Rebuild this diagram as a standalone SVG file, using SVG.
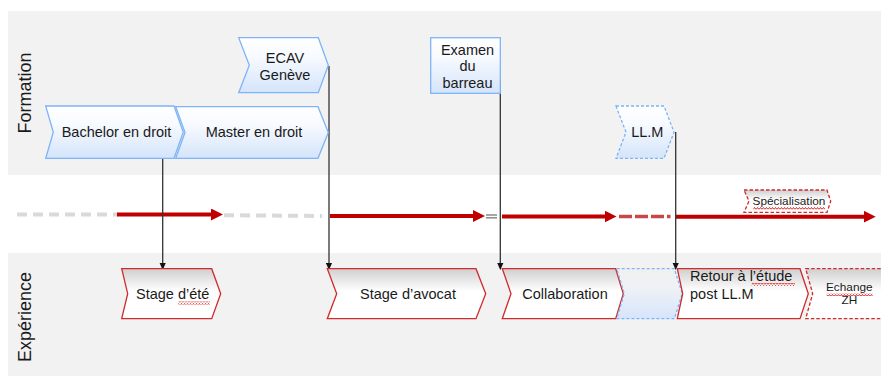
<svg xmlns="http://www.w3.org/2000/svg" width="881" height="376" viewBox="0 0 881 376">
<defs>
<linearGradient id="gBlue" x1="0" y1="0" x2="0" y2="1">
<stop offset="0" stop-color="#ffffff"/><stop offset="0.35" stop-color="#f7faff"/><stop offset="1" stop-color="#d4e4fa"/>
</linearGradient>
<linearGradient id="gBlueEmpty" x1="0" y1="0" x2="0" y2="1">
<stop offset="0" stop-color="#f0f0f0"/><stop offset="0.4" stop-color="#eef1f6"/><stop offset="1" stop-color="#d6e5fb"/>
</linearGradient>
<linearGradient id="gRed" x1="0" y1="0" x2="0" y2="1">
<stop offset="0" stop-color="#cfcfcf"/><stop offset="0.45" stop-color="#ffffff"/><stop offset="1" stop-color="#ffffff"/>
</linearGradient>
<pattern id="wave" width="3" height="3" patternUnits="userSpaceOnUse">
<path d="M0,2.5 L1.5,0.5 L3,2.5" fill="none" stroke="#e02020" stroke-width="1"/>
</pattern>
<marker id="ra" viewBox="0 0 12 12" markerWidth="12" markerHeight="12" refX="4" refY="6" orient="auto" markerUnits="userSpaceOnUse">
<path d="M0,0 L12,6 L0,12 z" fill="#c00000"/>
</marker>
<marker id="ka" viewBox="0 0 8 8" markerWidth="7" markerHeight="7" refX="3" refY="4" orient="auto" markerUnits="userSpaceOnUse">
<path d="M0,0.5 L8,4 L0,7.5 z" fill="#111"/>
</marker>
</defs>
<style>
text{font-family:"Liberation Sans",Arial,sans-serif;fill:#1a1a1a}
.t{font-size:14.5px}
.s{font-size:11.8px}
.lab{font-size:18px}
.blue{fill:url(#gBlue);stroke:#7eb4f6;stroke-width:1.3}
.bluedash{fill:url(#gBlue);stroke:#7eb4f6;stroke-width:1.3;stroke-dasharray:3 2}
.red{fill:url(#gRed);stroke:#d02a2a;stroke-width:1.3}
.reddash{fill:url(#gRed);stroke:#d02a2a;stroke-width:1.3;stroke-dasharray:3.5 2}
.conn{stroke:#333;stroke-width:1.3;fill:none}
.tl{stroke:#c00000;stroke-width:4;fill:none}
.tlg{stroke:#d9d9d9;stroke-width:4;fill:none;stroke-dasharray:10 6}
</style>

<g id="bands">
<rect x="8" y="11" width="873" height="164" fill="#f2f2f2"/>
<rect x="8" y="253" width="873" height="123" fill="#f2f2f2"/>
<text class="lab" transform="translate(31,93) rotate(-90)" text-anchor="middle">Formation</text>
<text class="lab" transform="translate(31,317) rotate(-90)" text-anchor="middle">Expérience</text>
</g>

<g id="timeline">
<line class="tlg" x1="17" y1="214.5" x2="118" y2="214.5"/>
<line class="tl" x1="117" y1="214.5" x2="215" y2="214.5" marker-end="url(#ra)"/>
<line class="tlg" x1="224" y1="215.2" x2="322" y2="216"/>
<line class="tl" x1="330" y1="216" x2="477" y2="216" marker-end="url(#ra)"/>
<line x1="486" y1="215" x2="497" y2="215" stroke="#8a8a8a" stroke-width="1.5"/>
<line x1="486" y1="217.8" x2="497" y2="217.8" stroke="#8a8a8a" stroke-width="1.5"/>
<line class="tl" x1="502" y1="216.5" x2="608.5" y2="216.5" marker-end="url(#ra)"/>
<line x1="619" y1="216.5" x2="670.5" y2="216.5" stroke="#c8484a" stroke-width="3.5" stroke-dasharray="13 3"/>
<line class="tl" x1="676" y1="216.7" x2="867.7" y2="216.7" marker-end="url(#ra)"/>
</g>

<g id="connectors">
<line class="conn" x1="162.7" y1="158.3" x2="162.7" y2="265.7" marker-end="url(#ka)"/>
<line class="conn" x1="329" y1="66" x2="329" y2="265.7" marker-end="url(#ka)"/>
<line class="conn" x1="500.3" y1="79" x2="500.3" y2="265.7" marker-end="url(#ka)"/>
<line class="conn" x1="675.7" y1="132" x2="675.7" y2="265.7" marker-end="url(#ka)"/>
</g>

<g id="bachelor">
<polygon class="blue" points="45.7,106 174,106 183.3,132.2 174,158.3 45.7,158.3 53.3,132.2"/>
<text class="t" x="116.5" y="137.2" text-anchor="middle">Bachelor en droit</text>
</g>
<g id="master">
<polygon class="blue" points="175.7,106.7 318,106.7 328.3,132.5 318,158.3 175.7,158.3 185,132.5"/>
<text class="t" x="254" y="137.2" text-anchor="middle">Master en droit</text>
</g>
<g id="ecav">
<polygon class="blue" points="238.7,37.7 318.3,37.7 328.3,65.2 318.3,92.7 238.7,92.7 249.3,65.2"/>
<text class="t" x="285" y="62.5" text-anchor="middle">ECAV</text>
<text class="t" x="285" y="79.5" text-anchor="middle">Genève</text>
</g>
<g id="examen">
<rect class="blue" x="430.7" y="37.7" width="69.6" height="55.6"/>
<text class="t" x="467.5" y="54.5" text-anchor="middle">Examen</text>
<text class="t" x="467.5" y="71.3" text-anchor="middle">du</text>
<text class="t" x="467.5" y="88.2" text-anchor="middle">barreau</text>
</g>
<g id="llm">
<polygon class="bluedash" points="616,106 664,106 674,132.2 664,158.3 616,158.3 626,132.2"/>
<text class="t" x="647.3" y="137.2" text-anchor="middle">LL.M</text>
</g>

<g id="specialisation">
<polygon class="reddash" points="744,190 827,190 830.7,201.2 827,212.3 744,212.3 749,201.2"/>
<text class="s" x="789" y="205.3" text-anchor="middle">Spécialisation</text>
<rect x="753.3" y="206.8" width="71.7" height="3" fill="url(#wave)"/>
</g>

<g id="stage-ete">
<polygon class="red" points="121.7,268.7 211.7,268.7 220.7,293.7 211.7,318.7 121.7,318.7 127.7,293.7"/>
<text class="t" x="172.7" y="298.5" text-anchor="middle">Stage d’été</text>
<rect x="178.3" y="301.5" width="31.7" height="3" fill="url(#wave)"/>
</g>
<g id="stage-avocat">
<polygon class="red" points="327.3,268.7 476,268.7 485.7,293.7 476,318.7 327.3,318.7 336.7,293.7"/>
<text class="t" x="408" y="298.5" text-anchor="middle">Stage d’avocat</text>
</g>
<g id="collaboration">
<polygon class="red" points="502.3,268.7 615.7,268.7 623.3,293.7 615.7,318.7 502.3,318.7 511,293.7"/>
<text class="t" x="565" y="298.5" text-anchor="middle">Collaboration</text>
</g>
<g id="blank">
<polygon fill="url(#gBlueEmpty)" stroke="#7eb4f6" stroke-width="1.3" stroke-dasharray="3 2" points="616.7,268.7 674.3,268.7 682.3,293.7 674.3,318.7 616.7,318.7 624.3,293.7"/>
</g>
<g id="retour">
<polygon class="red" points="677.3,268.7 800,268.7 808.3,293.7 800,318.7 677.3,318.7 682.7,293.7"/>
<text class="t" x="690" y="281">Retour à l’étude</text>
<text class="t" x="690" y="298.5">post LL.M</text>
<rect x="751.7" y="283" width="43.3" height="3" fill="url(#wave)"/>
</g>
<g id="echange">
<polygon class="reddash" points="805.7,268.7 884,268.7 884,318.7 805.7,318.7 812.7,293.7"/>
<text class="s" x="849.3" y="290.8" text-anchor="middle">Echange</text>
<text class="s" x="849.3" y="304" text-anchor="middle">ZH</text>
<rect x="826.7" y="293" width="46" height="3" fill="url(#wave)"/>
</g>
</svg>
